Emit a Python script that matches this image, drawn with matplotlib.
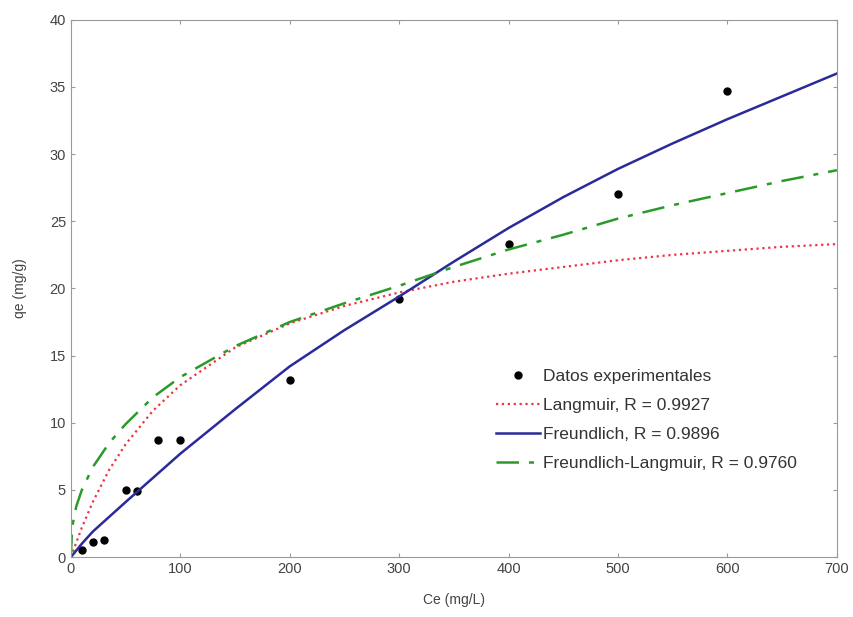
import matplotlib
matplotlib.use("Agg")
import matplotlib.pyplot as plt

plt.rcParams['font.family'] = ['Liberation Sans', 'DejaVu Sans']

# experimental points
ce_exp = [10, 20, 30, 50, 60, 80, 100, 200, 300, 400, 500, 600]
qe_exp = [0.5, 1.1, 1.3, 5.0, 4.9, 8.7, 8.7, 13.2, 19.2, 23.3, 27.0, 34.7]

# model curves
ce_lang = [0, 5, 10, 20, 35, 50, 75, 100, 150, 200, 250, 300, 350, 400, 450, 500, 550, 600, 650, 700]
qe_lang = [0, 1.1, 2.2, 4.1, 6.5, 8.4, 10.9, 12.8, 15.6, 17.4, 18.7, 19.7, 20.5, 21.1, 21.6, 22.1, 22.5, 22.8, 23.1, 23.3]

ce_freu = [0, 10, 20, 35, 50, 75, 100, 150, 200, 250, 300, 350, 400, 450, 500, 550, 600, 650, 700]
qe_freu = [0, 1.0, 1.9, 3.0, 4.1, 5.9, 7.7, 11.0, 14.2, 16.9, 19.4, 22.0, 24.5, 26.8, 28.9, 30.8, 32.6, 34.3, 36.0]

ce_fl = [0, 1, 2, 5, 10, 20, 35, 50, 75, 100, 150, 200, 250, 300, 350, 400, 450, 500, 550, 600, 650, 700]
qe_fl = [0, 2.0, 2.6, 3.8, 5.0, 6.7, 8.5, 9.9, 11.9, 13.4, 15.7, 17.5, 18.9, 20.2, 21.6, 22.9, 24.0, 25.2, 26.2, 27.1, 28.0, 28.8]

labels = ['Datos experimentales', 'Langmuir, R = 0.9927', 'Freundlich, R = 0.9896',
          'Freundlich-Langmuir, R = 0.9760']

fig = plt.figure(figsize=(8.54, 6.17), dpi=100)
ax = fig.add_axes([0.083, 0.097, 0.897, 0.871])

ax.plot(ce_exp, qe_exp, 'o', color='black', markersize=5, label=labels[0])
ax.plot(ce_lang, qe_lang, ':', color='#ee3344', linewidth=1.6, label=labels[1])
ax.plot(ce_freu, qe_freu, '-', color='#2a2a9a', linewidth=1.8, label=labels[2])
ax.plot(ce_fl, qe_fl, color='#2a9a2a', linewidth=1.8, dashes=[9, 4, 2, 4], label=labels[3])

ax.set_xlim(0, 700)
ax.set_ylim(0, 40)
ax.set_xticks(range(0, 701, 100))
ax.set_yticks(range(0, 41, 5))
ax.tick_params(direction='in', top=True, right=True, length=3, color='#999999',
               labelsize=10.5, labelcolor='#444444')
for s in ax.spines.values():
    s.set_color('#999999')
ax.set_xlabel('Ce (mg/L)', fontsize=10, color='#444444', labelpad=12)
ax.set_ylabel('qe (mg/g)', fontsize=10, color='#444444', labelpad=16)

ax.legend(loc='upper left', bbox_to_anchor=(0.535, 0.379), frameon=False, fontsize=12.5,
          handlelength=2.5, labelspacing=0.8, handletextpad=0.2, labelcolor='#333333')

fig.savefig('out.png', dpi=100)
